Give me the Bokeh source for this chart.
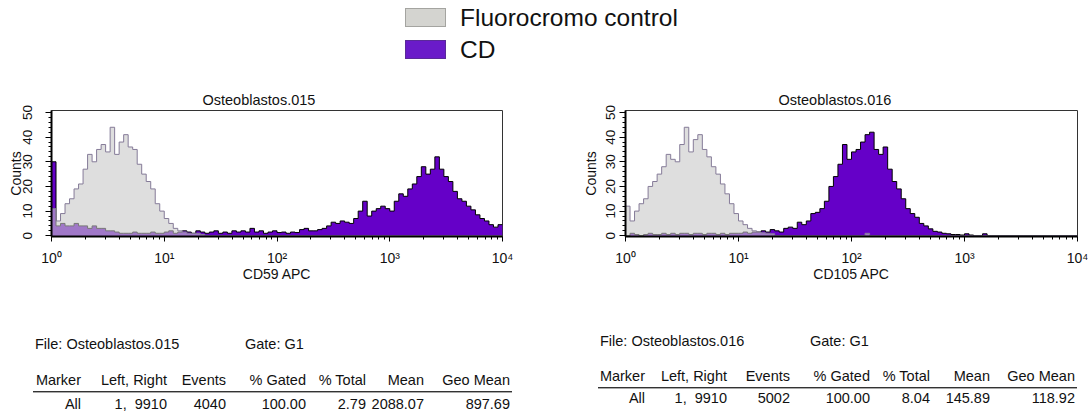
import numpy as np
from bokeh.plotting import figure
from bokeh.models import Div, FixedTicker, Range1d
from bokeh.layouts import column, row
from bokeh.embed import file_html
from bokeh.resources import INLINE

# ---- histogram data: counts per channel, channels are 0.04 decades wide starting at 10^0 ----
bin_width = 0.04

ctrl_015 = [11, 6, 9, 13, 15, 19, 21, 27, 33, 30,
            35, 37, 34, 44, 33, 38, 41, 36, 35, 29,
            25, 22, 19, 13, 10, 7, 5, 3, 2, 1.5,
            1, 1, 1, 0.5] + [0] * 66

cd_015 = [30, 4, 5, 4, 4, 5, 4, 4, 3, 4,
          3, 3, 2, 2, 1.5, 1, 1, 1, 1.5, 1,
          1, 1, 1.5, 1, 1, 1.5, 2, 1, 1.5, 2,
          1.5, 1, 2, 1.5, 1, 1.5, 2, 1, 1.5, 1,
          2, 1.5, 2, 1.5, 3, 1.5, 2, 1, 1.5, 2,
          1.3, 1.5, 1, 1.5, 1.3, 2.5, 3, 2, 2, 2.5,
          3, 4, 5.5, 5, 6, 5.5, 5, 7, 10, 14,
          8, 10, 11, 12, 11, 10, 14, 17, 16, 19,
          21, 24, 28, 25, 27, 32, 27, 24, 22, 18,
          15, 14, 12, 10.5, 8.5, 7, 6, 4.5, 3.5, 4.5]

ctrl_016 = [12, 6, 10, 13, 15, 20, 22, 25, 28, 33,
            31, 30, 37, 44, 34, 39, 41, 35, 32, 28,
            25, 21, 17, 13, 9, 6, 4.5, 3, 2, 1.5,
            1.2, 1, 0.8, 0, 0, 0, 0, 0, 0, 0,
            0, 0, 0, 0, 0, 0, 0, 0, 0, 0,
            0, 0, 0, 1, 0] + [0] * 45

cd_016 = [0, 1, 0.5, 0, 0.5, 1, 0.5, 0.5, 1, 0.5,
          1, 0.5, 1, 1, 0.5, 1, 1, 0.5, 1, 1,
          0.5, 1, 0.5, 1, 1, 1, 1.5, 1, 1.5, 1.5,
          2, 1.5, 2.5, 2, 1.5, 3, 3.5, 3, 5.5, 4.5,
          6, 9, 9.5, 11, 14, 20, 24, 29, 37, 31,
          34, 35, 38, 41, 42, 35, 33, 36, 27, 22,
          19, 15, 11, 9, 7.5, 5, 4, 2.8, 1.8, 1.5,
          1, 0.8, 0.5, 0.5, 0.3, 0.8, 0.3, 0, 0, 0.8] + [0] * 20

x_ticks = [1, 10, 100, 1000, 10000]
x_tick_labels = ["10\u2070", "10\u00b9", "10\u00b2", "10\u00b3", "10\u2074"]
y_ticks = [0, 10, 20, 30, 40, 50]

titles = ["Osteoblastos.015", "Osteoblastos.016"]
x_labels = ["CD59 APC", "CD105 APC"]

table_headers = ["Marker", "Left, Right", "Events", "% Gated", "% Total", "Mean", "Geo Mean"]
table_rows = [
    ["All", "1,\u00a0 9910", "4040", "100.00", "2.79", "2088.07", "897.69"],
    ["All", "1,\u00a0 9910", "5002", "100.00", "8.04", "145.89", "118.92"],
]
file_names = ["Osteoblastos.015", "Osteoblastos.016"]
gate_name = "G1"

legend_names = ["Fluorocromo control", "CD"]

FONT = "Liberation Sans"
PURPLE = "#6500c8"
GRAY = "#c8c8c8"
PANEL_H = 199
FRAME_H = 127


def step_outline(counts):
    counts = np.asarray(counts, dtype=float)
    edges = 10 ** (np.arange(len(counts) + 1) * bin_width)
    xs = np.repeat(edges, 2)[1:-1]
    ys = np.repeat(counts, 2)
    return xs, ys


def histogram_panel(ctrl, cd, title, xlabel, width, border_left, border_right, border_top,
                    title_offset, ylab_standoff, yaxis_label_standoff):
    p = figure(width=width, height=PANEL_H, output_backend="svg", toolbar_location=None,
               x_axis_type="log", x_range=Range1d(1, 10 ** 4), y_range=Range1d(-0.3, 50.8),
               min_border_left=border_left, min_border_right=border_right,
               min_border_top=border_top, min_border_bottom=PANEL_H - border_top - FRAME_H,
               tools="")
    p.grid.visible = False
    p.outline_line_color = "#333333"
    p.outline_line_width = 1
    p.background_fill_color = "white"
    p.border_fill_color = "white"

    p.title.text = title
    p.title.align = "left"
    p.title.offset = title_offset
    p.title.text_font = FONT
    p.title.text_font_size = "14.5px"
    p.title.text_font_style = "normal"
    p.title.text_color = "#111111"
    p.title.standoff = 5

    # stained sample: solid purple with black step outline
    xs, ys = step_outline(cd)
    p.patch(np.r_[xs[0], xs, xs[-1]], np.r_[0, ys, 0], fill_color=PURPLE, line_color=None)
    p.line(xs, ys, line_color="black", line_width=1)

    # unstained control: translucent gray so the overlap turns lavender
    xs, ys = step_outline(ctrl)
    p.patch(np.r_[xs[0], xs, xs[-1]], np.r_[0, ys, 0], fill_color=GRAY, fill_alpha=0.6,
            line_color=None)
    p.line(xs, ys, line_color="#857b98", line_width=1)

    xa = p.xaxis[0]
    xa.ticker = FixedTicker(ticks=x_ticks,
                            minor_ticks=[m * 10 ** d for d in range(4) for m in range(2, 10)])
    xa.major_label_overrides = dict(zip(x_ticks, x_tick_labels))
    xa.major_label_text_font = FONT
    xa.major_label_text_font_size = "14px"
    xa.major_label_standoff = 8
    xa.axis_label = xlabel
    xa.axis_label_text_font = FONT
    xa.axis_label_text_font_size = "14px"
    xa.axis_label_text_font_style = "normal"
    xa.axis_label_standoff = -3

    ya = p.yaxis[0]
    ya.ticker = FixedTicker(ticks=y_ticks, minor_ticks=list(range(0, 51, 2)))
    ya.major_label_orientation = "vertical"
    ya.axis_label = "Counts"
    ya.axis_label_text_font = FONT
    ya.axis_label_text_font_size = "14px"
    ya.axis_label_text_font_style = "normal"
    ya.axis_label_standoff = yaxis_label_standoff
    ya.major_label_text_font = FONT
    ya.major_label_text_font_size = "13.5px"
    ya.major_label_standoff = ylab_standoff
    ya.major_tick_out = 6
    ya.minor_tick_out = 3

    xa.major_tick_out = 5
    xa.minor_tick_out = 3
    for ax in (xa, ya):
        ax.axis_line_width = 2
        ax.axis_line_color = "black"
        ax.major_tick_in = 0
        ax.minor_tick_in = 0
        ax.major_tick_line_color = "black"
        ax.minor_tick_line_color = "black"
        ax.major_label_text_color = "#111111"
        ax.axis_label_text_color = "#111111"
    p.margin = 0
    return p


p1 = histogram_panel(ctrl_015, cd_015, titles[0], x_labels[0], 560, 51, 58, 24, 151, 13, -3)
p2 = histogram_panel(ctrl_016, cd_016, titles[1], x_labels[1], 528, 65, 11, 25, 153, 4, 5)

# ---- legend strip ----
legend_fills = ["#d4d4d0", "#6a1bc9"]
legend_borders = ["#a4a4a0", "#5a2a99"]
legend_html = ['<div style="position:relative;width:1088px;height:85px;font-family:\'Liberation Sans\';">']
for i, (name, fill, border) in enumerate(zip(legend_names, legend_fills, legend_borders)):
    top = 8 + 32 * i
    legend_html.append(
        f'<div style="position:absolute;left:405px;top:{top}px;width:41px;height:19px;'
        f'background:{fill};border:1px solid {border};"></div>'
        f'<div style="position:absolute;left:460px;top:{top - 4}px;font-size:24.5px;'
        f'line-height:28px;color:#111;white-space:nowrap;">{name}</div>')
legend_html.append("</div>")
legend_div = Div(text="".join(legend_html), width=1088, height=85, margin=0)

# ---- statistics tables ----
TABLE_TOP = 85 + PANEL_H
col_right = [[81, 167, 226, 306, 366, 424, 510],
             [645, 727, 790, 870, 930, 990, 1075]]
table_left = [33, 598]
table_right = [512, 1077]
gate_left = [245, 810]
# page y of text centres: file line, header, rule, data
row_y = [[344, 380, 392, 404], [341, 376, 388, 398]]


def cell(txt, right, yc):
    return (f'<div style="position:absolute;right:{1088 - right}px;top:{yc - TABLE_TOP - 9}px;'
            f'line-height:18px;white-space:nowrap;">{txt}</div>')


t = [f'<div style="position:relative;width:1088px;height:{413 - TABLE_TOP}px;'
     'font-family:\'Liberation Sans\';font-size:14.5px;color:#111;">']
for k in range(2):
    fy, hy, ly, dy = row_y[k]
    t.append(f'<div style="position:absolute;left:{table_left[k] + 2}px;top:{fy - TABLE_TOP - 9}px;'
             f'line-height:18px;white-space:nowrap;">File: {file_names[k]}</div>')
    t.append(f'<div style="position:absolute;left:{gate_left[k]}px;top:{fy - TABLE_TOP - 9}px;'
             f'line-height:18px;white-space:nowrap;">Gate: {gate_name}</div>')
    for h, r in zip(table_headers, col_right[k]):
        t.append(cell(h, r, hy))
    for v, r in zip(table_rows[k], col_right[k]):
        t.append(cell(v, r, dy))
    t.append(f'<div style="position:absolute;left:{table_left[k]}px;top:{ly - TABLE_TOP - 1}px;'
             f'width:{table_right[k] - table_left[k]}px;height:2px;background:#333;'
             f'border-bottom:1px solid #aaa;"></div>')
t.append("</div>")
table_div = Div(text="".join(t), width=1088, height=413 - TABLE_TOP, margin=0)

layout = column(legend_div, row(p1, p2, spacing=0), table_div, spacing=0)

open("out.html", "w").write(file_html(layout, INLINE))
